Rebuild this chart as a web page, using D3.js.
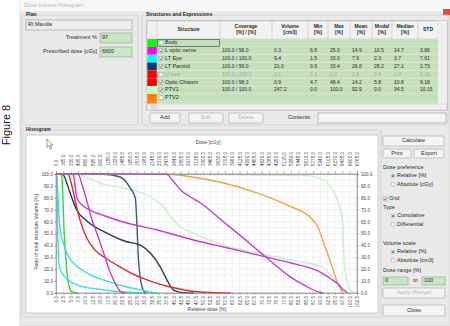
<!DOCTYPE html>
<html>
<head>
<meta charset="utf-8">
<script src="https://cdn.jsdelivr.net/npm/d3@7"></script>
<style>
  body { margin: 0; background: #fff; }
  svg { display: block; font-family: "Liberation Sans", Arial, sans-serif; }
</style>
</head>
<body>
<svg id="chart" width="450" height="326"></svg>
<script>
// ---- structure table ----
const structNames = ["Body", "L optic nerve", "LT Eye", "LT Parotid", "U lens", "Optic Chiasm", "PTV1", "PTV2"];
const structColors = ["#00ff00", "#ff00ff", "#00ffff", "#0a3a78", "#ff0000", "#ff0000", "#c8ffc8", "#ff8000"];
const structChecked = [false, true, true, true, false, true, true, false];
const coverage = ["", "100.0 / 96.0", "100.0 / 100.0", "100.0 / 99.0", "100.0 / 100.0", "100.0 / 98.3", "100.0 / 100.0", ""];
const volumes = ["", "0.3", "9.4", "21.0", "0.1", "0.9", "247.2", ""];
const minDose = ["", "6.6", "1.5", "9.9", "2.2", "4.7", "0.0", ""];
const maxDose = ["", "25.0", "33.0", "33.4", "2.5", "48.4", "100.0", ""];
const meanDose = ["", "14.9", "7.6", "26.8", "2.4", "14.2", "92.9", ""];
const modalDose = ["", "10.5", "2.3", "28.2", "2.4", "5.8", "0.0", ""];
const medianDose = ["", "14.7", "3.7", "27.1", "2.4", "10.8", "94.5", ""];
const stdDose = ["", "3.86", "7.61", "2.73", "0.12", "9.18", "10.15", ""];
const greyedRow = 4;
const colHeads = [["Structure"], ["Coverage", "[%] / [%]"], ["Volume", "[cm3]"], ["Min", "[%]"], ["Max", "[%]"],
                  ["Mean", "[%]"], ["Modal", "[%]"], ["Median", "[%]"], ["STD"]];

// ---- axis ticks ----
const relTicks = [0, 2.5, 5, 7.5, 10, 12.5, 15, 17.5, 20, 22.5, 25, 27.5, 30, 32.5, 35, 37.5, 40, 42.5, 45, 47.5, 50,
                  52.5, 55, 57.5, 60, 62.5, 65, 67.5, 70, 72.5, 75, 77.5, 80, 82.5, 85, 87.5, 90, 92.5, 95, 97.5, 100, 102.5];
const relLabels = ["0.0", "2.5", "5.0", "7.5", "10.0", "12.5", "15.0", "17.5", "20.0", "22.5", "25.0", "27.5", "30.0",
                   "32.5", "35.0", "37.5", "40.0", "42.5", "45.0", "47.5", "50.0", "52.5", "55.0", "57.5", "60.0", "62.5",
                   "65.0", "67.5", "70.0", "72.5", "75.0", "77.5", "80.0", "82.5", "85.0", "87.5", "90.0", "92.5", "95.0",
                   "97.5", "100.0", "102.5"];
const doseLabels = ["0.0", "165.0", "330.0", "495.0", "660.0", "825.0", "990.0", "1155.0", "1320.0", "1485.0", "1650.0",
                    "1815.0", "1980.0", "2145.0", "2310.0", "2475.0", "2640.0", "2805.0", "2970.0", "3135.0", "3300.0",
                    "3465.0", "3630.0", "3795.0", "3960.0", "4125.0", "4290.0", "4455.0", "4620.0", "4785.0", "4950.0",
                    "5115.0", "5280.0", "5445.0", "5610.0", "5775.0", "5940.0", "6105.0", "6270.0", "6435.0", "6600.0", "6765.0"];
const volTicks = [0, 10, 20, 30, 40, 50, 60, 70, 80, 90, 100];
const volLabels = ["0.0", "10.0", "20.0", "30.0", "40.0", "50.0", "60.0", "70.0", "80.0", "90.0", "100.0"];
const volGrid = [5, 15, 25, 35, 45, 55, 65, 75, 85, 95];

// ---- DVH curves: [relative dose %, volume %] ----
const ptv1Dvh = [[0, 100], [50, 99.6], [85, 98.6], [89, 97], [92.5, 92.4], [94.6, 85], [96.4, 74], [97.6, 60], [97.9, 40],
                 [98.3, 22], [99.8, 4.2], [101.5, 0]];
const ptvLowDvh = [[0, 100], [8.2, 99.7], [10.9, 96.6], [15, 92.4], [22.9, 88.2], [32.1, 80.9], [36.6, 72.5], [39, 64.1],
                   [42.4, 55.7], [46.8, 50.4], [57.1, 40.3], [68.6, 33.6], [80, 27.7], [85.7, 25.2], [91.2, 21],
                   [93.6, 15.1], [95.9, 8.4], [98, 1.1], [99, 0]];
const ptv2Dvh = [[0, 100], [38.3, 99.8], [45.8, 97.7], [57.1, 92.4], [68.6, 84], [80, 72.5], [86.8, 63], [89.1, 55.7],
                 [91.2, 42], [93.6, 25.2], [95.9, 8.4], [97.6, 0]];
const parotidDvh = [[0, 100], [16.1, 99.8], [21.9, 97.5], [25.3, 88.2], [27, 79.8], [27.6, 55.5], [28.1, 27.7],
                    [29.3, 5.3], [30.4, 0.3], [31, 0]];
const navyDvh = [[0, 100], [2.3, 99.6], [4.8, 84], [7, 70], [10.5, 60.5], [17.3, 50.4], [24.1, 43.1], [28.7, 40.3],
                 [32.1, 33.6], [35.5, 22], [37.8, 10.9], [40, 2.5], [43.4, 0.3], [47, 0]];
const chiasmDvh = [[0, 100], [4.1, 99.8], [5.1, 93], [6.5, 78], [8.2, 61], [10.3, 47], [13.3, 36], [17.4, 28.6],
                   [21.9, 21.8], [27, 15], [32.1, 10], [39, 5], [45.8, 1.7], [52.6, 0.4], [59.5, 0]];
const greenDvh = [[0, 100], [1.7, 99.6], [2.0, 97], [2.3, 83], [2.7, 55], [3.4, 28], [4.2, 8.4], [5.4, 1.1], [7.4, 0]];
const eyeDvh = [[0, 100], [0.3, 98], [0.6, 85], [1.0, 65], [1.6, 50], [2.5, 42], [4.2, 31], [7.1, 22.5], [11.6, 15.5],
                [17.3, 10], [24.2, 5], [30, 2], [33, 0.5], [35, 0]];
const cyanDvh = [[0, 100], [0.25, 98], [0.45, 75], [0.6, 50], [0.8, 32], [1.2, 22], [2.0, 17], [4.2, 11], [8.2, 6],
                 [14, 3.4], [20, 1.5], [26, 0.5], [30, 0]];
const opticDvh = [[0, 100], [7.5, 99.8], [8.9, 90.8], [10.6, 76.5], [12.3, 61.3], [14, 49.6], [16.1, 34.5], [18.4, 17.6],
                  [20.5, 6.7], [22.2, 0.84], [23.9, 0]];
const magentaLowDvh = [[0, 100], [5.5, 99.7], [5.9, 99], [7.1, 80], [8.9, 74], [11.6, 69.7], [16.7, 64.7], [22.9, 59.7],
                       [34.5, 52.9], [49.2, 43.1], [57.1, 38.7], [71.4, 30.3], [80, 25.2], [89.2, 18.5], [93.6, 11.8],
                       [96, 7.6], [98, 2.5], [99.4, 0]];
const magentaHighDvh = [[0, 100], [37.6, 99.8], [39.6, 95], [42.4, 86.6], [45.8, 80.7], [49.2, 75.6], [57.1, 59.7],
                        [64.6, 44.5], [71.4, 30.3], [79.9, 13.4], [85, 5.9], [88.8, 1.3], [91.2, 0]];

const series = [
  { pts: ptv1Dvh, color: "#c9efc9" },
  { pts: ptvLowDvh, color: "#c9efc9" },
  { pts: ptv2Dvh, color: "#eca446" },
  { pts: parotidDvh, color: "#3d5b84" },
  { pts: navyDvh, color: "#233a62" },
  { pts: chiasmDvh, color: "#dd2a22" },
  { pts: greenDvh, color: "#3fcf3f" },
  { pts: eyeDvh, color: "#3fdede" },
  { pts: cyanDvh, color: "#3fdede" },
  { pts: opticDvh, color: "#c63ccf" },
  { pts: magentaLowDvh, color: "#c63ccf" },
  { pts: magentaHighDvh, color: "#c63ccf" }
];

const svg = d3.select("#chart");
const FS = 5.5;

// small ui helpers
function label(x, y, s, o = {}) {
  return svg.append("text").attr("x", x).attr("y", y).text(s)
    .attr("font-size", o.size || FS).attr("fill", o.fill || "#2a2a2a")
    .attr("font-weight", o.bold ? "bold" : null)
    .attr("text-anchor", o.anchor || "start").attr("dominant-baseline", "middle");
}
function button(x, y, w, h, s, disabled) {
  svg.append("rect").attr("x", x).attr("y", y).attr("width", w).attr("height", h).attr("rx", 1)
    .attr("fill", "#f3f3f3").attr("stroke", "#a5a5a5").attr("stroke-width", 0.6);
  label(x + w / 2, y + h / 2, s, { anchor: "middle", fill: disabled ? "#b4b4b4" : "#2a2a2a" });
}
function field(x, y, w, h, s, fill) {
  svg.append("rect").attr("x", x).attr("y", y).attr("width", w).attr("height", h)
    .attr("fill", fill).attr("stroke", "#9a9a9a").attr("stroke-width", 0.6);
  if (s) label(x + 2, y + h / 2, s);
}
function radio(x, y, s, on) {
  svg.append("circle").attr("cx", x).attr("cy", y).attr("r", 2).attr("fill", "#fff").attr("stroke", "#8a8a8a").attr("stroke-width", 0.5);
  if (on) svg.append("circle").attr("cx", x).attr("cy", y).attr("r", 1).attr("fill", "#3a6a3a");
  label(x + 4, y, s);
}
function check(x, y, s, on) {
  svg.append("rect").attr("x", x - 2).attr("y", y - 2).attr("width", 4).attr("height", 4)
    .attr("fill", "#fff").attr("stroke", "#8a8a8a").attr("stroke-width", 0.5);
  if (on) svg.append("path").attr("d", `M${x - 1.3},${y} L${x - 0.3},${y + 1.2} L${x + 1.4},${y - 1.3}`)
    .attr("fill", "none").attr("stroke", "#222").attr("stroke-width", 0.7);
  if (s) label(x + 4, y, s);
}
function group(x, y, w, h, s) {
  svg.append("rect").attr("x", x).attr("y", y).attr("width", w).attr("height", h).attr("rx", 1.5)
    .attr("fill", "none").attr("stroke", "#cacaca").attr("stroke-width", 0.7);
  label(x + 4, y, s, { bold: true, size: 5 });
}

// page + window
svg.append("rect").attr("width", 450).attr("height", 326).attr("fill", "#fff");
svg.append("text").attr("transform", "translate(10,125) rotate(-90)").attr("text-anchor", "middle")
  .attr("font-size", 11).attr("fill", "#111").text("Figure 8");
svg.append("rect").attr("x", 20).attr("y", 0).attr("width", 430).attr("height", 326)
  .attr("fill", "#e9e9e9").attr("stroke", "#c4c4c4").attr("stroke-width", 0.6);
svg.append("rect").attr("x", 20).attr("y", 0).attr("width", 430).attr("height", 11).attr("fill", "#f6f6f6");
label(24, 6, "Dose Volume Histogram", { fill: "#b8b8b8" });
svg.append("rect").attr("x", 443).attr("y", 9).attr("width", 7).attr("height", 6).attr("fill", "#e24a3a");

// ---- Plan ----
group(22, 15, 116, 110, "Plan");
field(26, 20, 106, 10, "Rt Maxilla", "#ececec");
label(97, 38, "Treatment %", { anchor: "end" });
field(100, 33, 32, 10, "97", "#c7e6c2");
label(97, 52, "Prescribed dose [cGy]", { anchor: "end" });
field(100, 47, 32, 10, "6600", "#c7e6c2");

// ---- Structures and Expressions ----
group(142, 15, 306, 110, "Structures and Expressions");
const colEdges = [157, 220, 272, 308, 328, 350, 372, 392, 418, 438];
const headTop = 21, headBot = 39, rowH = 7.85;
svg.append("rect").attr("x", 147).attr("y", headTop).attr("width", 300).attr("height", 89)
  .attr("fill", "#fff").attr("stroke", "#8c8c8c").attr("stroke-width", 0.6);
svg.append("rect").attr("x", 147).attr("y", headTop).attr("width", 291).attr("height", headBot - headTop)
  .attr("fill", "#f1f1f1").attr("stroke", "#a8a8a8").attr("stroke-width", 0.4);
colEdges.slice(0, -1).forEach((e, i) => {
  svg.append("line").attr("x1", e).attr("x2", e).attr("y1", headTop).attr("y2", headBot)
    .attr("stroke", "#a8a8a8").attr("stroke-width", 0.4);
  const cx = (e + colEdges[i + 1]) / 2;
  const lines = colHeads[i];
  lines.forEach((t, k) => label(cx, (headTop + headBot) / 2 + (lines.length === 1 ? 0 : (k - 0.5) * 6), t,
    { anchor: "middle", bold: true, size: 5 }));
});
const cols = [coverage, volumes, minDose, maxDose, meanDose, modalDose, medianDose, stdDose];
structNames.forEach((name, i) => {
  const ry = headBot + i * rowH;
  svg.append("rect").attr("x", 147.3).attr("y", ry).attr("width", 9.7).attr("height", rowH).attr("fill", structColors[i]);
  svg.append("rect").attr("x", 157).attr("y", ry).attr("width", 281).attr("height", rowH)
    .attr("fill", "#c4dfba").attr("stroke", "#dbeed5").attr("stroke-width", 0.4);
  check(161, ry + rowH / 2, null, structChecked[i]);
  const fill = i === greyedRow ? "#9aa99a" : "#2a2a2a";
  label(165, ry + rowH / 2, name, { fill });
  cols.forEach((c, k) => label(colEdges[k + 1] + 2, ry + rowH / 2, c[i], { fill, size: 5 }));
});
// focus box on first row
svg.append("rect").attr("x", 157.5).attr("y", headBot + 0.5).attr("width", 62).attr("height", rowH - 1)
  .attr("fill", "none").attr("stroke", "#333").attr("stroke-width", 0.6);
// partial next row
svg.append("rect").attr("x", 147.3).attr("y", headBot + 8 * rowH).attr("width", 9.7).attr("height", 1.8).attr("fill", "#ff8000");
svg.append("rect").attr("x", 157).attr("y", headBot + 8 * rowH).attr("width", 281).attr("height", 1.8).attr("fill", "#c4dfba");
// scrollbars
svg.append("rect").attr("x", 438).attr("y", headTop).attr("width", 9).attr("height", 83).attr("fill", "#eeeeee");
svg.append("rect").attr("x", 147).attr("y", 104).attr("width", 300).attr("height", 6).attr("fill", "#eeeeee")
  .attr("stroke", "#b5b5b5").attr("stroke-width", 0.4);
svg.append("rect").attr("x", 150).attr("y", 104.5).attr("width", 8).attr("height", 5).attr("fill", "#dedede");
button(150, 113, 30, 10, "Add", false);
button(189, 113, 34, 10, "Edit", true);
button(229, 113, 34, 10, "Delete", true);
label(288, 118, "Contents:");
field(318, 113, 128, 10, "", "#f4f4f4");

// ---- Histogram ----
group(22, 130, 359, 187, "Histogram");
svg.append("rect").attr("x", 26).attr("y", 135).attr("width", 352).attr("height", 178)
  .attr("fill", "#fff").attr("stroke", "#b0b0b0").attr("stroke-width", 0.6);

const x = d3.scaleLinear().domain([0, 102.5]).range([56, 357]);
const y = d3.scaleLinear().domain([0, 100]).range([293, 174]);

const plot = svg.append("g");
plot.selectAll(".vgrid").data(relTicks).join("line").attr("class", "vgrid")
  .attr("x1", d => x(d)).attr("x2", d => x(d)).attr("y1", y(0)).attr("y2", y(100))
  .attr("stroke", "#e2e2e2").attr("stroke-width", 0.5);
plot.selectAll(".hgrid").data(volTicks.concat(volGrid)).join("line").attr("class", "hgrid")
  .attr("x1", x(0)).attr("x2", x(102.5)).attr("y1", d => y(d)).attr("y2", d => y(d))
  .attr("stroke", "#e2e2e2").attr("stroke-width", 0.5);

const line = d3.line().x(d => x(d[0])).y(d => y(d[1])).curve(d3.curveMonotoneX);
plot.selectAll(".dvh").data(series).join("path").attr("class", "dvh")
  .attr("d", d => line(d.pts)).attr("fill", "none")
  .attr("stroke", d => d.color).attr("stroke-width", 1.4);

plot.append("rect").attr("x", x(0)).attr("y", y(100)).attr("width", x(102.5) - x(0)).attr("height", y(0) - y(100))
  .attr("fill", "none").attr("stroke", "#8a8a8a").attr("stroke-width", 0.6);

function styleAxis(g) {
  g.attr("font-size", 4.6).attr("font-family", "'Liberation Sans', Arial, sans-serif");
  g.selectAll("text").attr("fill", "#444");
  g.selectAll("line").attr("stroke", "#777").attr("stroke-width", 0.5);
  g.select(".domain").attr("stroke", "#8a8a8a").attr("stroke-width", 0.6);
}
svg.append("g").attr("transform", `translate(${x(0)},0)`)
  .call(d3.axisLeft(y).tickValues(volTicks).tickFormat((d, i) => volLabels[i]).tickSize(2).tickPadding(1))
  .call(styleAxis);
svg.append("g").attr("transform", `translate(${x(102.5)},0)`)
  .call(d3.axisRight(y).tickValues(volTicks).tickFormat((d, i) => volLabels[i]).tickSize(2).tickPadding(2))
  .call(styleAxis);
const topAxis = svg.append("g").attr("transform", `translate(0,${y(100)})`)
  .call(d3.axisTop(x).tickValues(relTicks).tickFormat((d, i) => doseLabels[i]).tickSize(3))
  .call(styleAxis);
topAxis.selectAll(".tick text").attr("transform", "rotate(-90)").attr("x", 8).attr("y", 0)
  .attr("dy", "0.35em").attr("text-anchor", "start");
const bottomAxis = svg.append("g").attr("transform", `translate(0,${y(0)})`)
  .call(d3.axisBottom(x).tickValues(relTicks).tickFormat((d, i) => relLabels[i]).tickSize(2))
  .call(styleAxis);
bottomAxis.selectAll(".tick text").attr("transform", "rotate(-90)").attr("x", -3).attr("y", 0)
  .attr("dy", "0.35em").attr("text-anchor", "end");

label(208, 143, "Dose [cGy]", { anchor: "middle", size: 5, fill: "#444" });
label(207, 310, "Relative dose [%]", { anchor: "middle", size: 5, fill: "#444" });
svg.append("text").attr("transform", "translate(37,232) rotate(-90)").attr("text-anchor", "middle")
  .attr("dominant-baseline", "middle").attr("font-size", 5).attr("fill", "#444")
  .text("Ratio of total structure Volume [%]");

// mouse pointer
svg.append("path").attr("d", "M47,139 L47,147.5 L49,145.6 L50.6,149.2 L51.8,148.6 L50.3,145.2 L52.8,145.2 Z")
  .attr("fill", "#fff").attr("stroke", "#333").attr("stroke-width", 0.5);

// ---- right controls ----
button(383, 136, 61, 10, "Calculate", false);
button(383, 149, 28, 9, "Print", false);
button(414, 149, 30, 9, "Export", false);
label(383, 168, "Dose preference");
radio(393, 176, "Relative [%]", true);
radio(393, 184.5, "Absolute [cGy]", false);
check(385, 199, "Grid", true);
label(383, 208, "Type");
radio(393, 216, "Cumulative", true);
radio(393, 224.5, "Differential", false);
label(383, 243.5, "Volume scale");
radio(393, 252, "Relative [%]", true);
radio(393, 260.5, "Absolute [cm3]", false);
label(383, 271, "Dose range [%]");
field(383, 277, 25, 8, "0", "#c7e6c2");
label(413, 281, "to");
field(422, 277, 23, 8, "100", "#c7e6c2");
button(383, 288, 62, 10, "Apply (Range)", true);
button(383, 305, 62, 11, "Close", false);
</script>
</body>
</html>
